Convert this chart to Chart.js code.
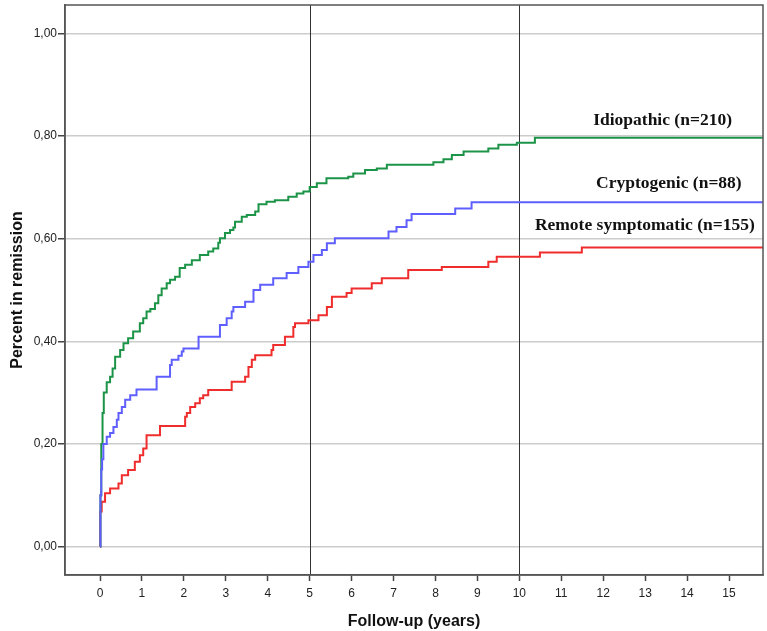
<!DOCTYPE html>
<html>
<head>
<meta charset="utf-8">
<script src="https://cdn.jsdelivr.net/npm/chart.js@4/dist/chart.umd.min.js"></script>
<style>
html,body{margin:0;padding:0;background:#fff;}
#wrap{width:767px;height:631px;position:relative;}
</style>
</head>
<body>
<div id="wrap"><canvas id="c" width="767" height="631"></canvas></div>
<script>
// ---- Data (Kaplan-Meier style step curves) ----
const idiopathicT = [0,0.01,0.03,0.06,0.09,0.16,0.24,0.30,0.36,0.48,0.56,0.67,0.79,0.95,1.03,1.11,1.20,1.31,1.39,1.47,1.59,1.67,1.79,1.90,2.03,2.19,2.38,2.58,2.70,2.82,2.86,2.98,3.10,3.18,3.22,3.38,3.50,3.70,3.78,3.97,4.17,4.49,4.69,4.85,5.00,5.17,5.40,5.92,6.04,6.32,6.60,6.84,7.95,8.19,8.39,8.67,9.26,9.50,9.94,10.37,16];
const idiopathicV = [0,0.10,0.20,0.26,0.30,0.32,0.331,0.347,0.37,0.383,0.396,0.406,0.419,0.435,0.445,0.458,0.463,0.474,0.49,0.503,0.513,0.52,0.526,0.543,0.549,0.558,0.568,0.575,0.581,0.592,0.601,0.611,0.617,0.622,0.633,0.643,0.646,0.653,0.667,0.672,0.675,0.682,0.688,0.692,0.701,0.708,0.718,0.721,0.727,0.734,0.737,0.744,0.749,0.755,0.763,0.77,0.776,0.783,0.787,0.797,0.797];

const cryptogenicT = [0,0.01,0.03,0.05,0.08,0.16,0.24,0.32,0.40,0.44,0.52,0.60,0.72,0.87,1.35,1.67,1.71,1.87,1.95,1.99,2.35,2.86,3.02,3.14,3.18,3.46,3.66,3.82,4.13,4.45,4.73,4.97,5.09,5.29,5.41,5.60,6.88,7.07,7.31,7.43,8.47,8.86,16];
const cryptogenicV = [0,0.10,0.15,0.17,0.20,0.214,0.221,0.233,0.247,0.26,0.272,0.286,0.295,0.306,0.331,0.354,0.364,0.372,0.38,0.386,0.409,0.432,0.445,0.458,0.467,0.477,0.50,0.51,0.523,0.533,0.545,0.555,0.568,0.578,0.591,0.601,0.614,0.623,0.636,0.648,0.659,0.671,0.671];

const remoteT = [0,0.005,0.04,0.12,0.24,0.44,0.52,0.67,0.83,0.95,1.03,1.11,1.43,2.03,2.07,2.15,2.27,2.38,2.46,2.58,3.14,3.46,3.54,3.62,3.70,4.09,4.13,4.41,4.61,4.65,4.97,5.21,5.41,5.53,5.88,6.00,6.48,6.72,7.35,8.15,9.26,9.46,10.49,11.49,16];
const remoteV = [0,0.068,0.087,0.104,0.113,0.123,0.139,0.149,0.165,0.178,0.191,0.217,0.235,0.253,0.26,0.272,0.279,0.289,0.295,0.305,0.321,0.331,0.35,0.364,0.373,0.383,0.393,0.409,0.428,0.435,0.441,0.451,0.467,0.487,0.494,0.503,0.513,0.523,0.539,0.545,0.555,0.565,0.573,0.583,0.583];

const seriesNames = ["Idiopathic (n=210)", "Cryptogenic (n=88)", "Remote symptomatic (n=155)"];
const xTicks = [0,1,2,3,4,5,6,7,8,9,10,11,12,13,14,15];
const yTicks = [0,0.2,0.4,0.6,0.8,1.0];
const refLinesX = [5, 10];
// label anchor positions (data units): left edge x, middle y
const labelX = [11.76, 11.83, 10.37];
const labelY = [0.831, 0.707, 0.625];

const toPts = (T, V) => T.map((t, i) => ({x: t, y: V[i]}));

const overlay = {
  id: 'overlay',
  beforeDatasetsDraw(chart) {
    const {ctx, chartArea: a, scales: {x}} = chart;
    ctx.save();
    ctx.strokeStyle = '#333';
    ctx.lineWidth = 1;
    refLinesX.forEach(v => {
      const px = Math.round(x.getPixelForValue(v)) + 0.5;
      ctx.beginPath(); ctx.moveTo(px, a.top); ctx.lineTo(px, a.bottom); ctx.stroke();
    });
    ctx.restore();
  },
  afterDraw(chart) {
    const {ctx, chartArea: a, scales: {x, y}} = chart;
    ctx.save();
    ctx.strokeStyle = '#555';
    ctx.lineWidth = 1.5;
    ctx.strokeRect(a.left, a.top, a.right - a.left, a.bottom - a.top);
    ctx.fillStyle = '#111';
    ctx.font = 'bold 17.5px "Liberation Serif", "Times New Roman", serif';
    ctx.textAlign = 'left';
    ctx.textBaseline = 'middle';
    seriesNames.forEach((n, i) => {
      ctx.fillText(n, x.getPixelForValue(labelX[i]), y.getPixelForValue(labelY[i]));
    });
    ctx.restore();
  }
};

new Chart(document.getElementById('c'), {
  type: 'line',
  data: {
    datasets: [
      {label: seriesNames[2], data: toPts(remoteT, remoteV), borderColor: 'rgb(240,45,45)', order: 3},
      {label: seriesNames[0], data: toPts(idiopathicT, idiopathicV), borderColor: 'rgb(28,148,72)', order: 2},
      {label: seriesNames[1], data: toPts(cryptogenicT, cryptogenicV), borderColor: 'rgb(95,95,255)', order: 1}
    ].map(d => Object.assign(d, {stepped: 'before', borderWidth: 2, pointRadius: 0, fill: false, tension: 0}))
  },
  options: {
    responsive: false,
    animation: false,
    layout: {padding: {top: 5, right: 4, left: 0, bottom: 0}},
    plugins: {legend: {display: false}, tooltip: {enabled: false}},
    scales: {
      x: {
        type: 'linear',
        min: -0.835, max: 15.81,
        afterBuildTicks: s => { s.ticks = xTicks.map(v => ({value: v})); },
        afterFit: s => { s.height = 56; s.paddingLeft = 0; s.paddingRight = 0; },
        grid: {drawOnChartArea: false, drawTicks: true, tickLength: 6, tickColor: '#444', tickWidth: 1.5},
        border: {display: true, color: '#555', width: 1.5},
        ticks: {color: '#222', font: {family: '"Liberation Sans", Arial, sans-serif', size: 12}, padding: 5, maxRotation: 0, autoSkip: false},
        title: {display: true, text: 'Follow-up (years)', color: '#111', font: {family: '"Liberation Sans", Arial, sans-serif', size: 16, weight: 'bold'}, padding: {top: 4, bottom: 0}}
      },
      y: {
        type: 'linear',
        min: -0.0556, max: 1.0556,
        afterBuildTicks: s => { s.ticks = yTicks.map(v => ({value: v})); },
        afterFit: s => { s.width = 65; s.paddingTop = 0; s.paddingBottom = 0; },
        grid: {color: '#cccccc', lineWidth: 1.5, drawTicks: true, tickLength: 7, tickColor: '#444', tickWidth: 1.5},
        border: {display: true, color: '#555', width: 1.5},
        ticks: {color: '#222', font: {family: '"Liberation Sans", Arial, sans-serif', size: 12}, padding: 1,
          callback: v => v.toFixed(2).replace('.', ',')},
        title: {display: true, text: 'Percent in remission', color: '#111', font: {family: '"Liberation Sans", Arial, sans-serif', size: 16, weight: 'bold'}, padding: {top: 8, bottom: 0}}
      }
    }
  },
  plugins: [overlay]
});
</script>
</body>
</html>
